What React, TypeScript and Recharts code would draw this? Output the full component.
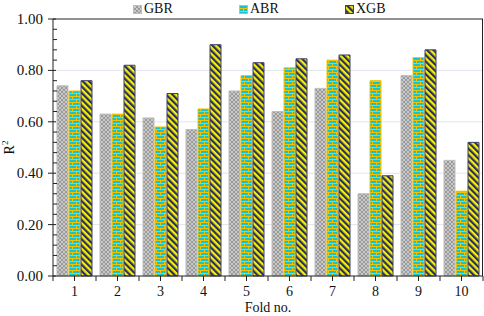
import React from "react";
import {
  BarChart,
  Bar,
  XAxis,
  YAxis,
  CartesianGrid,
  ReferenceLine,
  Legend,
} from "recharts";

const folds = ["1", "2", "3", "4", "5", "6", "7", "8", "9", "10"];
const gbr = [0.74, 0.63, 0.615, 0.57, 0.72, 0.64, 0.73, 0.32, 0.78, 0.45];
const abr = [0.72, 0.63, 0.58, 0.65, 0.78, 0.81, 0.84, 0.76, 0.85, 0.33];
const xgb = [0.76, 0.82, 0.71, 0.9, 0.83, 0.845, 0.86, 0.39, 0.88, 0.52];

const majorTicks = [0, 0.2, 0.4, 0.6, 0.8, 1];
const allTicks = [
  0, 0.04, 0.08, 0.12, 0.16, 0.2, 0.24, 0.28, 0.32, 0.36, 0.4, 0.44, 0.48,
  0.52, 0.56, 0.6, 0.64, 0.68, 0.72, 0.76, 0.8, 0.84, 0.88, 0.92, 0.96, 1,
];
const gridValues = [0.2, 0.4, 0.6, 0.8];

const series = [
  { key: "GBR", fill: "url(#patGBR)", stroke: "#bdbdbd" },
  { key: "ABR", fill: "url(#patABR)", stroke: "#f2c200" },
  { key: "XGB", fill: "url(#patXGB)", stroke: "#3b3f70" },
];

const data = folds.map((f, i) => ({
  fold: f,
  GBR: gbr[i],
  ABR: abr[i],
  XGB: xgb[i],
}));

const FONT = "'Liberation Serif', 'Times New Roman', serif";
const AXIS = "#222";

const isMajor = (v: number) => majorTicks.some((m) => Math.abs(m - v) < 1e-6);

// labels only on the 0.2 steps, small inner ticks in between
const YTick = (props: any) => {
  const { x, y, payload } = props;
  const major = isMajor(payload.value);
  const ax = x + 8;
  if (!major) {
    return <line x1={ax} x2={ax + 4} y1={y} y2={y} stroke={AXIS} />;
  }
  return (
    <g>
      <line x1={ax - 5} x2={ax + 3} y1={y} y2={y} stroke={AXIS} />
      <text
        x={ax - 10}
        y={y}
        dy={5}
        textAnchor="end"
        fontFamily={FONT}
        fontSize={15}
        fill="#111"
      >
        {payload.value.toFixed(2)}
      </text>
    </g>
  );
};

const XTick = (props: any) => {
  const { x, y, payload, index, width, visibleTicksCount } = props;
  const band = width / (visibleTicksCount || folds.length);
  const ay = y - 8;
  return (
    <g>
      <line x1={x - band / 2} x2={x - band / 2} y1={ay} y2={ay + 5} stroke={AXIS} />
      <line x1={x} x2={x} y1={ay} y2={ay + 5} stroke={AXIS} />
      {index === folds.length - 1 && (
        <line x1={x + band / 2} x2={x + band / 2} y1={ay} y2={ay + 5} stroke={AXIS} />
      )}
      <text
        x={x}
        y={ay + 20}
        textAnchor="middle"
        fontFamily={FONT}
        fontSize={14}
        fill="#111"
      >
        {payload.value}
      </text>
    </g>
  );
};

const YLabel = (props: any) => {
  const { viewBox } = props;
  const cy = viewBox.y + viewBox.height / 2;
  return (
    <text
      x={14}
      y={cy}
      transform={`rotate(-90, 14, ${cy})`}
      textAnchor="middle"
      fontFamily={FONT}
      fontSize={14}
      fill="#111"
    >
      R<tspan fontSize={9} dy={-6}>2</tspan>
    </text>
  );
};

const LegendContent = () => (
  <div style={{ position: "relative", height: 19 }}>
    {series.map((s, i) => (
      <div
        key={s.key}
        style={{
          position: "absolute",
          left: 133 + i * 106,
          top: 1,
          display: "flex",
          alignItems: "center",
          fontFamily: FONT,
          fontSize: 14,
          color: "#111",
        }}
      >
        <svg width={9} height={9} style={{ marginRight: 2 }}>
          <rect x={0.5} y={0.5} width={8} height={8} fill={s.fill} stroke={s.stroke} />
        </svg>
        {s.key}
      </div>
    ))}
  </div>
);

export default function App() {
  return (
    <div style={{ position: "absolute", left: 0, top: 0, width: 484, height: 316, background: "#fff" }}>
      <BarChart
        width={484}
        height={316}
        data={data}
        margin={{ top: 0, right: 1, bottom: 0, left: 0 }}
        barCategoryGap={4}
        barGap={1}
      >
        <defs>
          <pattern id="patGBR" width={4} height={4} patternUnits="userSpaceOnUse">
            <rect width={4} height={4} fill="#9a9a9a" />
            <path d="M0 0 L4 4 M4 0 L0 4" stroke="#d6d6d6" strokeWidth={0.8} />
          </pattern>
          <pattern id="patABR" width={8} height={6} patternUnits="userSpaceOnUse">
            <rect width={8} height={6} fill="#14c3d4" />
            <path d="M0 0.5 H8 M0 3.5 H8 M0.5 0 V3 M4.5 3 V6" stroke="#f2c200" strokeWidth={1} />
          </pattern>
          <pattern
            id="patXGB"
            width={4.5}
            height={4.5}
            patternUnits="userSpaceOnUse"
            patternTransform="rotate(-45)"
          >
            <rect width={4.5} height={4.5} fill="#f4f000" />
            <rect width={2.2} height={4.5} fill="#2a2e66" />
          </pattern>
        </defs>
        <Legend verticalAlign="top" height={19} content={<LegendContent />} />
        <CartesianGrid
          vertical={false}
          horizontalValues={gridValues}
          stroke="#dfe5ec"
          strokeWidth={1}
        />
        <XAxis
          dataKey="fold"
          height={40}
          axisLine={{ stroke: AXIS }}
          tickLine={false}
          tick={<XTick />}
          interval={0}
          label={{
            value: "Fold no.",
            position: "insideBottom",
            offset: 4,
            style: { fontFamily: FONT, fontSize: 14, fill: "#111" },
          }}
        />
        <YAxis
          type="number"
          domain={[0, 1]}
          ticks={allTicks}
          interval={0}
          width={53}
          axisLine={{ stroke: AXIS }}
          tickLine={false}
          tick={<YTick />}
          label={<YLabel />}
        />
        <ReferenceLine y={1} stroke={AXIS} strokeWidth={1} />
        {series.map((s) => (
          <Bar
            key={s.key}
            dataKey={s.key}
            fill={s.fill}
            stroke={s.stroke}
            strokeWidth={1}
            isAnimationActive={false}
            legendType="square"
          />
        ))}
      </BarChart>
      <div
        style={{
          position: "absolute",
          left: 482,
          top: 19,
          width: 1,
          height: 257,
          background: AXIS,
        }}
      />
    </div>
  );
}
